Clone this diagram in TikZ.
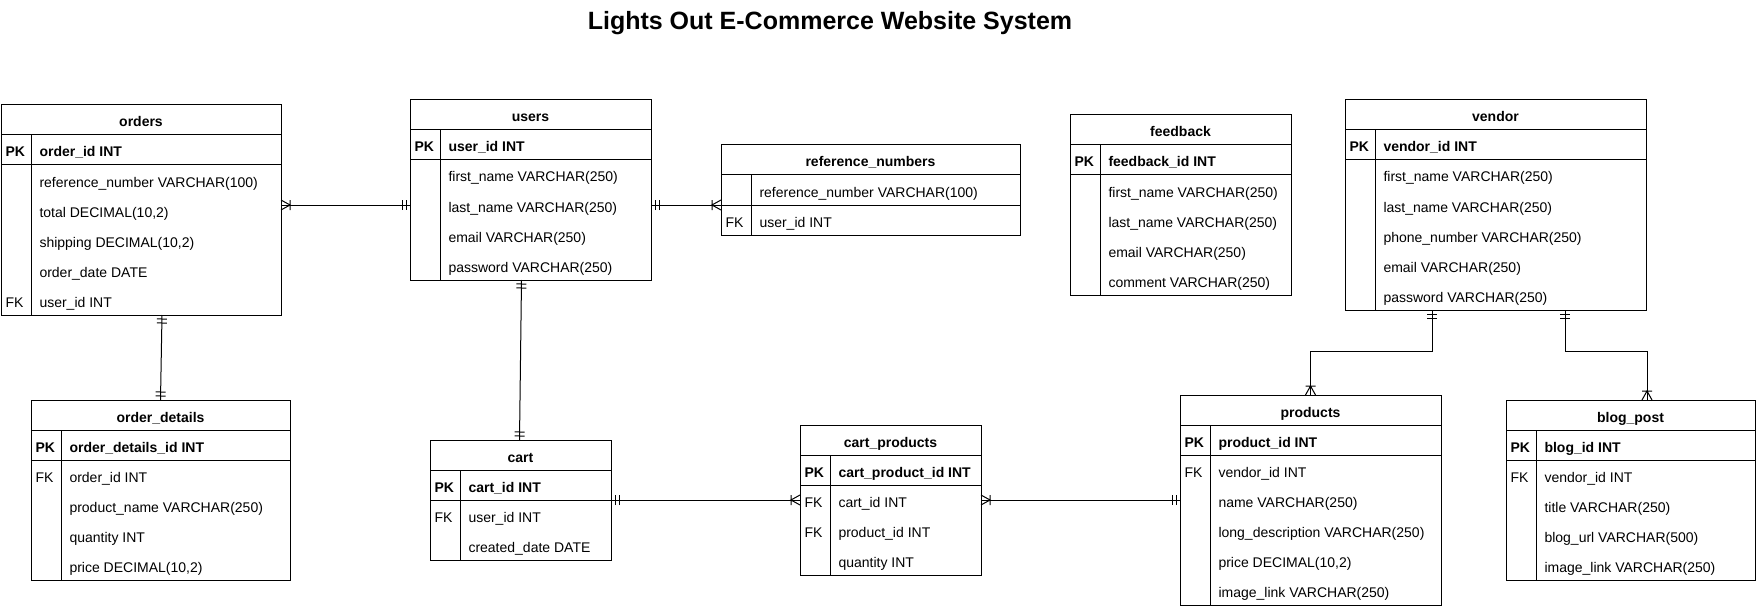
\documentclass[tikz,border=0pt]{standalone}
\usepackage{fontspec}
\setmainfont{Liberation Sans}
\usetikzlibrary{arrows.meta}

% crow's foot ends: one and only one / one or many
\pgfdeclarearrow{
    name = ERone,
    setup code = {
        \pgfarrowssettipend{0pt}
        \pgfarrowssetlineend{0pt}
        \pgfarrowssetbackend{-9pt}
        \pgfarrowssetvisualbackend{-9pt}
        \pgfarrowshullpoint{0pt}{5pt}
        \pgfarrowshullpoint{-9pt}{-5pt}
    },
    drawing code = {
        \pgfsetdash{}{0pt}
        \pgfpathmoveto{\pgfqpoint{-4pt}{5pt}}
        \pgfpathlineto{\pgfqpoint{-4pt}{-5pt}}
        \pgfpathmoveto{\pgfqpoint{-8pt}{5pt}}
        \pgfpathlineto{\pgfqpoint{-8pt}{-5pt}}
        \pgfusepathqstroke
    }
}
\pgfdeclarearrow{
    name = ERmany,
    setup code = {
        \pgfarrowssettipend{0pt}
        \pgfarrowssetlineend{0pt}
        \pgfarrowssetbackend{-9pt}
        \pgfarrowssetvisualbackend{-9pt}
        \pgfarrowshullpoint{0pt}{5pt}
        \pgfarrowshullpoint{-9pt}{-5pt}
    },
    drawing code = {
        \pgfsetdash{}{0pt}
        \pgfpathmoveto{\pgfqpoint{0pt}{5pt}}
        \pgfpathlineto{\pgfqpoint{-9pt}{0pt}}
        \pgfpathlineto{\pgfqpoint{0pt}{-5pt}}
        \pgfpathmoveto{\pgfqpoint{-9pt}{5pt}}
        \pgfpathlineto{\pgfqpoint{-9pt}{-5pt}}
        \pgfusepathqstroke
    }
}

\tikzset{
    table box/.style = {
        draw,
        anchor = north west,
        inner sep = 0pt,
        outer sep = 0pt,
        },
    table title/.style = {
        font = \fontsize{14}{16}\selectfont\bfseries,
        inner sep = 0pt,
        text height = 14pt,
        text depth = 0pt,
        },
    key tag/.style = {
        font = \fontsize{14}{16}\selectfont,
        anchor = west,
        inner sep = 0pt,
        text height = 14pt,
        text depth = 0pt,
        },
    field/.style = {
        key tag,
        },
    relation/.style = {
        line width = 1pt,
        },
}

% #1 name, #2 top left, #3 width, #4 number of fields, #5 title,
% #6 key tag, #7 key field, #8 fields
\newcommand{\ertable}[8]{%
    \node[table box, minimum width=#3, minimum height={30*(#4+2)}] (#1) at (#2) {};
    \node[table title] (#1-title) at ([yshift=-15pt]#1.north) {#5};
    \draw ([yshift=-30pt]#1.north west) -- ([yshift=-30pt]#1.north east);
    \draw ([yshift=-60pt]#1.north west) -- ([yshift=-60pt]#1.north east);
    \draw ([xshift=30pt,yshift=-30pt]#1.north west) -- ([xshift=30pt]#1.south west);
    \node[key tag] (#1-tag0) at ([xshift=4pt,yshift=-45pt]#1.north west) {#6};
    \node[field] (#1-0) at ([xshift=38pt,yshift=-45pt]#1.north west) {#7};
    \foreach \keytxt/\fieldtxt [count=\i] in {#8} {
        \node[key tag] (#1-tag\i) at ([xshift=4pt,yshift={-45pt-30pt*\i}]#1.north west) {\keytxt};
        \node[field] (#1-\i) at ([xshift=38pt,yshift={-45pt-30pt*\i}]#1.north west) {\fieldtxt};
    }%
}

\begin{document}
\begin{tikzpicture}[x=1pt, y=-1pt, line width=1pt]
    \useasboundingbox (0,0) rectangle (1757,607);

    \node[font=\fontsize{25}{28}\selectfont\bfseries, inner sep=0pt, text height=18pt, text depth=0pt]
        (title) at (830,21) {Lights Out E-Commerce Website System};

    \ertable{orders}{1,105}{280}{5}{orders}{\textbf{PK}}{\textbf{order\_id INT}}
        {/{reference\_number VARCHAR(100)}, /{total DECIMAL(10,2)}, /{shipping DECIMAL(10,2)},
         /{order\_date DATE}, FK/{user\_id INT}}
    \ertable{users}{410,100}{241}{4}{users}{\textbf{PK}}{\textbf{user\_id INT}}
        {/{first\_name VARCHAR(250)}, /{last\_name VARCHAR(250)}, /{email VARCHAR(250)},
         /{password VARCHAR(250)}}
    \ertable{refnums}{721,145}{299}{1}{reference\_numbers}{}{reference\_number VARCHAR(100)}
        {FK/{user\_id INT}}
    \ertable{feedback}{1070,115}{221}{4}{feedback}{\textbf{PK}}{\textbf{feedback\_id INT}}
        {/{first\_name VARCHAR(250)}, /{last\_name VARCHAR(250)}, /{email VARCHAR(250)},
         /{comment VARCHAR(250)}}
    \ertable{vendor}{1345,100}{301}{5}{vendor}{\textbf{PK}}{\textbf{vendor\_id INT}}
        {/{first\_name VARCHAR(250)}, /{last\_name VARCHAR(250)}, /{phone\_number VARCHAR(250)},
         /{email VARCHAR(250)}, /{password VARCHAR(250)}}
    \ertable{orddet}{31,400}{259}{4}{order\_details}{\textbf{PK}}{\textbf{order\_details\_id INT}}
        {FK/{order\_id INT}, /{product\_name VARCHAR(250)}, /{quantity INT}, /{price DECIMAL(10,2)}}
    \ertable{cart}{430,440}{181}{2}{cart}{\textbf{PK}}{\textbf{cart\_id INT}}
        {FK/{user\_id INT}, /{created\_date DATE}}
    \ertable{cartprod}{800,425}{181}{3}{cart\_products}{\textbf{PK}}{\textbf{cart\_product\_id INT}}
        {FK/{cart\_id INT}, FK/{product\_id INT}, /{quantity INT}}
    \ertable{products}{1180,395}{261}{5}{products}{\textbf{PK}}{\textbf{product\_id INT}}
        {FK/{vendor\_id INT}, /{name VARCHAR(250)}, /{long\_description VARCHAR(250)},
         /{price DECIMAL(10,2)}, /{image\_link VARCHAR(250)}}
    \ertable{blogpost}{1506,400}{249}{4}{blog\_post}{\textbf{PK}}{\textbf{blog\_id INT}}
        {FK/{vendor\_id INT}, /{title VARCHAR(250)}, /{blog\_url VARCHAR(500)},
         /{image\_link VARCHAR(250)}}

    % relations
    \draw[relation, {ERmany}-{ERone}] (orders.east |- users-2) -- (users.west |- users-2);
    \draw[relation, {ERone}-{ERmany}] (users.east |- users-2) -- (refnums.west |- users-2);
    \draw[relation, {ERone}-{ERone}] ([xshift=21pt]orders.south) -- (orddet.north);
    \draw[relation, {ERone}-{ERone}] ([xshift=-9pt]users.south) -- ([xshift=-1pt]cart.north);
    \draw[relation, {ERone}-{ERmany}] (cart.east |- cartprod-1) -- (cartprod.west |- cartprod-1);
    \draw[relation, {ERmany}-{ERone}] (cartprod.east |- cartprod-1) -- (products.west |- cartprod-1);
    \draw[relation, {ERone}-{ERmany}] ([xshift=-63.5pt]vendor.south) -- ++(0,41) -| (products.north);
    \draw[relation, {ERone}-{ERmany}] ([xshift=69.5pt]vendor.south) -- ++(0,41) -| ([xshift=16.5pt]blogpost.north);
\end{tikzpicture}
\end{document}
